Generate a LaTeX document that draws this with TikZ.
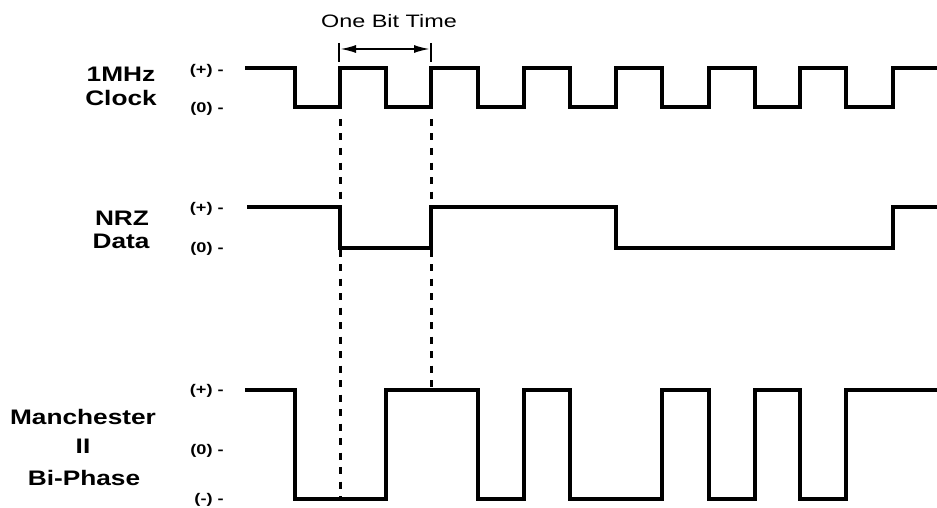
\documentclass[tikz,border=0pt]{standalone}
\usepackage{fontspec}
\setmainfont{Liberation Sans}
\usetikzlibrary{arrows.meta}
\begin{document}
\begin{tikzpicture}[x=1pt,y=-1pt,
  wave/.style={line width=3.4pt, line join=miter},
  guide/.style={line width=3pt, dash pattern=on 7pt off 7.5pt},
  siglabel/.style={font=\bfseries\fontsize{21}{23}\selectfont, xscale=1.25, anchor=base, inner sep=0pt},
  lvl/.style={font=\bfseries\fontsize{14}{16}\selectfont, xscale=1.3, anchor=east, inner sep=0pt},
  tick/.style={line width=2pt},
  dim/.style={line width=2pt, {Latex[length=16pt,width=8pt]}-{Latex[length=16pt,width=8pt]}}
]
\useasboundingbox (0,0) rectangle (937,508);
% signal names
\node[siglabel] (l1a) at (121,82) {1MHz};
\node[siglabel] (l1b) at (121,106) {Clock};
\node[siglabel] (l2a) at (122,225) {NRZ};
\node[siglabel] (l2b) at (121,248) {Data};
\node[siglabel] (l3a) at (83,424) {Manchester};
\node[siglabel] (l3b) at (83,453) {II};
\node[siglabel] (l3c) at (84,485) {Bi-Phase};
% level labels
\node[lvl] (c1p) at (224,71) {(+) -};
\node[lvl] (c1z) at (224,109) {(0) -};
\node[lvl] (n1p) at (224,209) {(+) -};
\node[lvl] (n1z) at (224,249) {(0) -};
\node[lvl] (m1p) at (224,391) {(+) -};
\node[lvl] (m1z) at (224,451) {(0) -};
\node[lvl] (m1m) at (224,500) {(-) -};
% clock
\draw[wave] (245,68) -- (295,68) -- (295,107) -- (340,107) -- (340,68) -- (386,68) -- (386,107) -- (431,107) -- (431,68) -- (478,68) -- (478,107) -- (524,107) -- (524,68) -- (570,68) -- (570,107) -- (616,107) -- (616,68) -- (662,68) -- (662,107) -- (709,107) -- (709,68) -- (755,68) -- (755,107) -- (800,107) -- (800,68) -- (846,68) -- (846,107) -- (893,107) -- (893,68) -- (937,68);
% NRZ
\draw[wave] (247,207) -- (340,207) -- (340,248) -- (431,248) -- (431,207) -- (616,207) -- (616,248) -- (893,248) -- (893,207) -- (937,207);
% Manchester
\draw[wave] (245,390) -- (295,390) -- (295,499) -- (386,499) -- (386,390) -- (478,390) -- (478,499) -- (524,499) -- (524,390) -- (570,390) -- (570,499) -- (662,499) -- (662,390) -- (709,390) -- (709,499) -- (755,499) -- (755,390) -- (800,390) -- (800,499) -- (846,499) -- (846,390) -- (937,390);
% guides
\coordinate (g1a) at (340,119);
\coordinate (g1b) at (340,499);
\coordinate (g2a) at (431,119);
\coordinate (g2b) at (431,390);
\draw[guide] (g1a) -- (g1b);
\draw[guide] (g2a) -- (g2b);
% bit time dimension
\coordinate (d1a) at (339,43);
\coordinate (d1b) at (339,62);
\coordinate (d2a) at (431,43);
\coordinate (d2b) at (431,62);
\draw[tick] (d1a) -- (d1b);
\draw[tick] (d2a) -- (d2b);
\coordinate (a1) at (340,49);
\coordinate (a2) at (430,49);
\draw[dim] (a1) -- (a2);
\node[font=\fontsize{18}{20}\selectfont, xscale=1.3, anchor=base, inner sep=0pt] (title) at (389,28) {One Bit Time};
\end{tikzpicture}
\end{document}
